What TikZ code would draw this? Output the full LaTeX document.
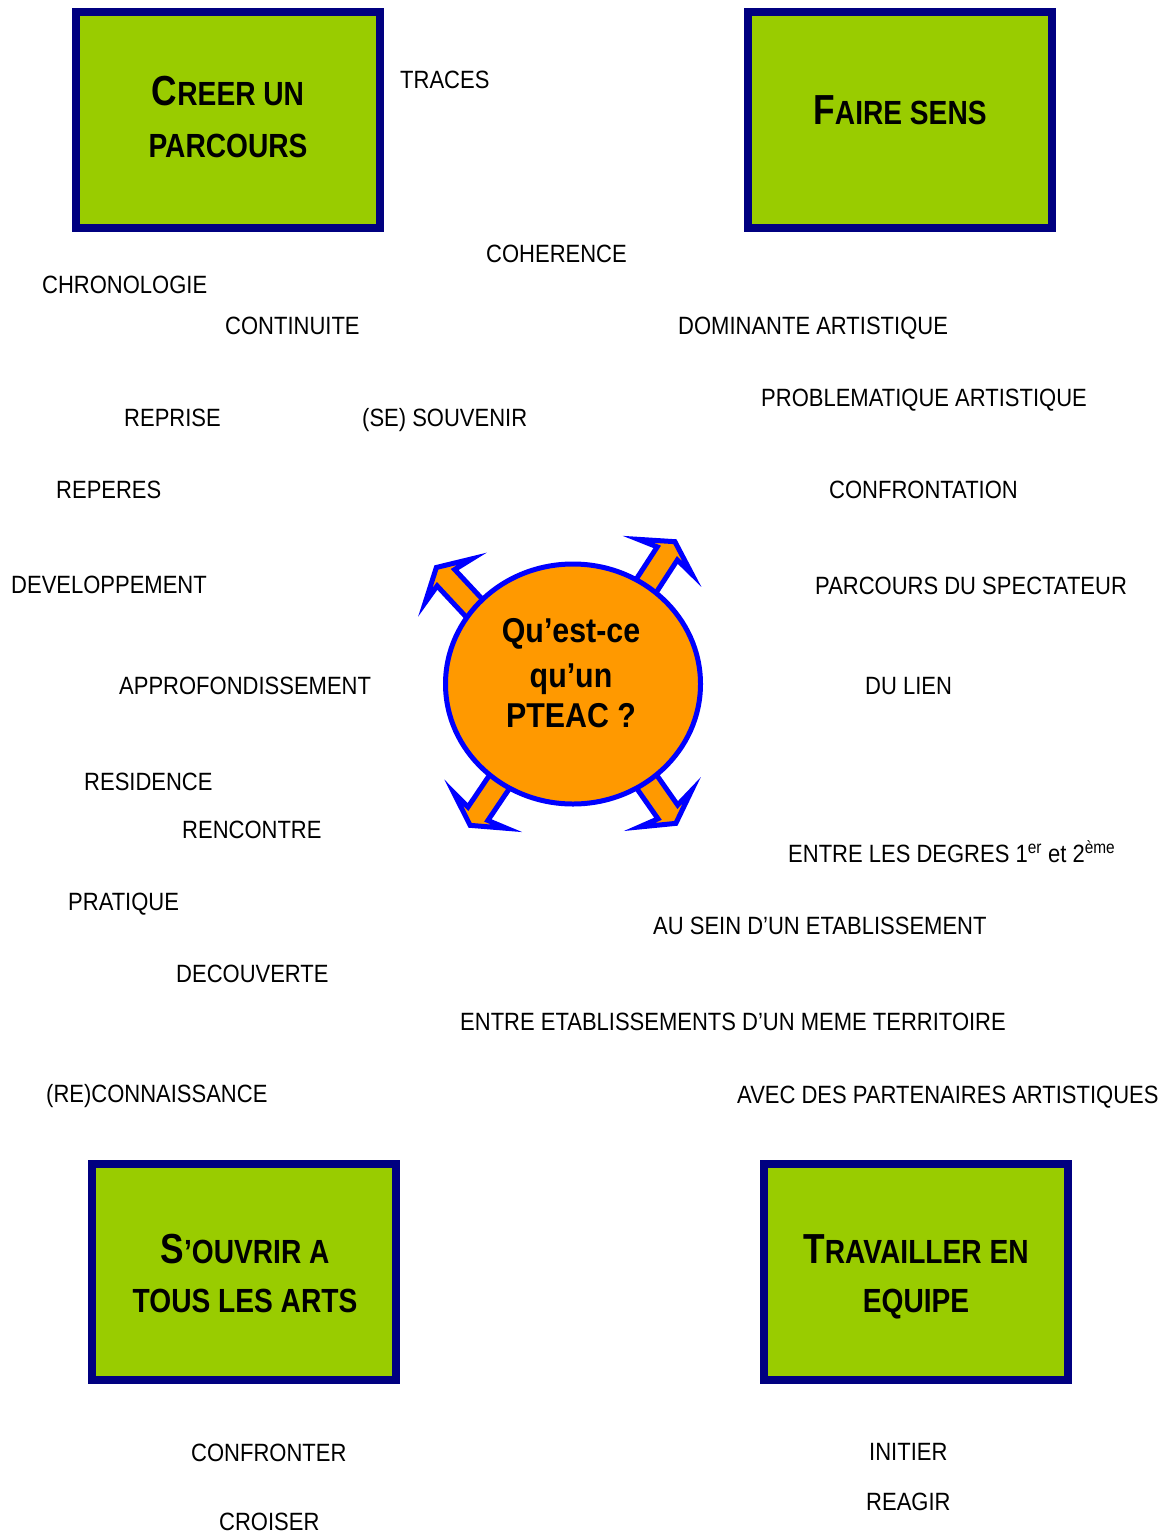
\documentclass[tikz,border=0pt]{standalone}
\usepackage{fontspec}
\setmainfont{Liberation Sans}[FakeStretch=0.88]
\newfontfamily\boxfont{Liberation Sans}[FakeStretch=0.84]
\usetikzlibrary{shapes.geometric}
\definecolor{boxgreen}{HTML}{99CC00}
\definecolor{boxnavy}{HTML}{000080}
\definecolor{pblue}{HTML}{0000FF}
\definecolor{porange}{HTML}{FF9900}
\newcommand{\bigc}[1]{{\fontsize{42bp}{48bp}\selectfont #1}}
\begin{document}
\begin{tikzpicture}[x=1bp,y=-1bp,
  lbl/.style={anchor=base west, inner sep=0pt, font=\fontsize{25bp}{30bp}\selectfont},
  greenbox/.style={draw=boxnavy, fill=boxgreen, line width=8bp, rectangle, inner sep=0pt, minimum width=304bp, minimum height=216bp},
  boxtxt/.style={anchor=base, inner sep=0pt, font=\boxfont\bfseries\fontsize{33.5bp}{40bp}\selectfont},
  ctxt/.style={anchor=base, inner sep=0pt, font=\bfseries\fontsize{34.5bp}{40bp}\selectfont},
  parrow/.style={draw=pblue, fill=porange, line width=5bp, line join=miter}]
\useasboundingbox (0,0) rectangle (1163,1533);

% boxes
\node[greenbox] (b1) at (228,120) {};
\node[greenbox] (b2) at (900,120) {};
\node[greenbox] (b3) at (244,1272) {};
\node[greenbox] (b4) at (916,1272) {};
\node[boxtxt] (b1a) at (228,106) {\bigc{C}REER UN};
\node[boxtxt] (b1b) at (228,157) {PARCOURS};
\node[boxtxt] (b2a) at (900,125) {\bigc{F}AIRE SENS};
\node[boxtxt] (b3a) at (245,1263) {\bigc{S}’OUVRIR A};
\node[boxtxt] (b3b) at (245,1312) {TOUS LES ARTS};
\node[boxtxt] (b4a) at (916,1263) {\bigc{T}RAVAILLER EN};
\node[boxtxt] (b4b) at (916,1312) {EQUIPE};

% arrows around the centre
\foreach \ax/\ay/\ang in {435/566/133, 676/540/57, 469/827/236, 677/825/305} {
  \draw[parrow, shift={(\ax,\ay)}, rotate=\ang]
    (-2,0) -- (-20,32) -- (-16,12) -- (-95,12) -- (-95,-12) -- (-16,-12) -- (-20,-32) -- cycle;
}
\node[draw=pblue, fill=porange, line width=5bp, ellipse, inner sep=0pt,
      minimum width=255bp, minimum height=240bp] (ctr) at (573,684) {};
\node[ctxt] (c1) at (571,642) {Qu’est-ce};
\node[ctxt] (c2) at (571,687) {qu’un};
\node[ctxt] (c3) at (571,727) {PTEAC ?};

% labels
\node[lbl] (l1) at (400,89) {TRACES};
\node[lbl] (l2) at (486,262) {COHERENCE};
\node[lbl] (l3) at (42,293) {CHRONOLOGIE};
\node[lbl] (l4) at (225,334) {CONTINUITE};
\node[lbl] (l5) at (678,334) {DOMINANTE ARTISTIQUE};
\node[lbl] (l6) at (761,406) {PROBLEMATIQUE ARTISTIQUE};
\node[lbl] (l7) at (124,426) {REPRISE};
\node[lbl] (l8) at (362,426) {(SE) SOUVENIR};
\node[lbl] (l9) at (56,498) {REPERES};
\node[lbl] (l10) at (829,498) {CONFRONTATION};
\node[lbl] (l11) at (11,593) {DEVELOPPEMENT};
\node[lbl] (l12) at (815,594) {PARCOURS DU SPECTATEUR};
\node[lbl] (l13) at (119,694) {APPROFONDISSEMENT};
\node[lbl] (l14) at (865,694) {DU LIEN};
\node[lbl] (l15) at (84,790) {RESIDENCE};
\node[lbl] (l16) at (182,838) {RENCONTRE};
\node[lbl] (l17) at (788,862) {ENTRE LES DEGRES 1\textsuperscript{er} et 2\textsuperscript{ème}};
\node[lbl] (l18) at (68,910) {PRATIQUE};
\node[lbl] (l19) at (653,934) {AU SEIN D’UN ETABLISSEMENT};
\node[lbl] (l20) at (176,982) {DECOUVERTE};
\node[lbl] (l21) at (460,1030) {ENTRE ETABLISSEMENTS D’UN MEME TERRITOIRE};
\node[lbl] (l22) at (46,1102) {(RE)CONNAISSANCE};
\node[lbl] (l23) at (737,1103) {AVEC DES PARTENAIRES ARTISTIQUES};
\node[lbl] (l24) at (191,1461) {CONFRONTER};
\node[lbl] (l25) at (219,1530) {CROISER};
\node[lbl] (l26) at (869,1460) {INITIER};
\node[lbl] (l27) at (866,1510) {REAGIR};
\end{tikzpicture}
\end{document}
